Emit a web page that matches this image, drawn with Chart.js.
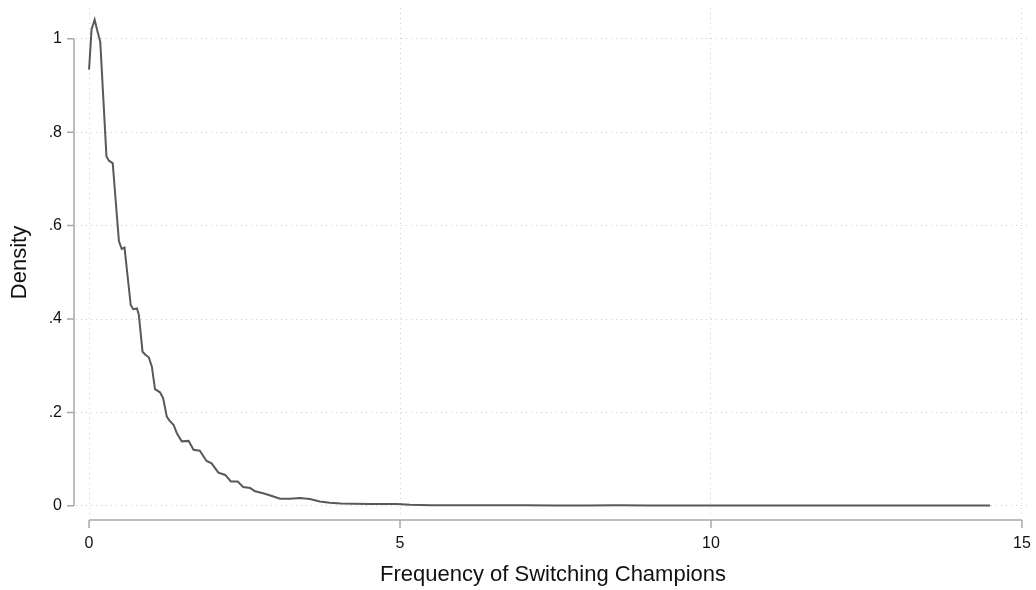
<!DOCTYPE html>
<html>
<head>
<meta charset="utf-8">
<script src="https://cdn.jsdelivr.net/npm/chart.js@4.4.0/dist/chart.umd.min.js"></script>
<style>
  html, body { margin: 0; padding: 0; background: #fff; }
  #wrap { width: 1036px; height: 590px; }
</style>
</head>
<body>
<div id="wrap"><canvas id="densityChart"></canvas></div>
<script>
// kernel density
const switchFreq = [0, 0.04, 0.09, 0.13, 0.18, 0.28, 0.32, 0.38, 0.48, 0.525, 0.57, 0.67, 0.71, 0.77, 0.8,
  0.86, 0.91, 0.96, 1.01, 1.06, 1.14, 1.19, 1.25, 1.29, 1.36, 1.41, 1.49, 1.6, 1.68, 1.78, 1.89, 1.97,
  2.08, 2.19, 2.28, 2.39, 2.48, 2.59, 2.67, 2.8, 2.94, 3.07, 3.23, 3.39, 3.55, 3.71, 3.87, 4.05, 4.24,
  4.52, 4.75, 4.95, 5.16, 5.5, 6, 6.5, 7, 7.5, 8, 8.5, 9, 9.5, 10, 11, 12, 13, 14, 14.49];
const densityVals = [0.934, 1.02, 1.041, 1.019, 0.994, 0.748, 0.739, 0.734, 0.567, 0.55, 0.553, 0.43, 0.421,
  0.4225, 0.409, 0.33, 0.323, 0.318, 0.298, 0.25, 0.243, 0.231, 0.191, 0.183, 0.173, 0.156, 0.138, 0.139,
  0.12, 0.118, 0.096, 0.091, 0.071, 0.066, 0.052, 0.052, 0.040, 0.038, 0.031, 0.027, 0.021, 0.015, 0.015,
  0.0165, 0.0144, 0.009, 0.0064, 0.005, 0.0043, 0.0036, 0.0038, 0.004, 0.002, 0.0012, 0.0011, 0.0013,
  0.001, 0.0008, 0.0006, 0.0009, 0.0005, 0.0005, 0.0005, 0.0005, 0.0005, 0.0005, 0.0005, 0.0006];
const xTicks = [0, 5, 10, 15];
const yTicks = [0, 0.2, 0.4, 0.6, 0.8, 1];

const FONT = "'Liberation Sans', Arial, sans-serif";
const AXIS_COLOR = "#a8a8a8";

let points = [];
for (let i = 0; i < switchFreq.length; i++) {
  points.push({ x: switchFreq[i], y: densityVals[i] });
}

// stata style axis lines, offset from the plot region
const stataAxes = {
  id: "stataAxes",
  afterDraw(chart) {
    const ctx = chart.ctx;
    const xs = chart.scales.x;
    const ys = chart.scales.y;
    const axisY = chart.chartArea.bottom + 3;
    const axisX = chart.chartArea.left - 2;
    ctx.save();
    ctx.strokeStyle = AXIS_COLOR;
    ctx.lineWidth = 1.5;
    ctx.beginPath();
    ctx.moveTo(xs.getPixelForValue(0), axisY);
    ctx.lineTo(xs.getPixelForValue(15), axisY);
    xTicks.forEach(function (v) {
      const px = xs.getPixelForValue(v);
      ctx.moveTo(px, axisY);
      ctx.lineTo(px, axisY + 8);
    });
    ctx.moveTo(axisX, ys.getPixelForValue(0));
    ctx.lineTo(axisX, ys.getPixelForValue(1));
    yTicks.forEach(function (v) {
      const py = ys.getPixelForValue(v);
      ctx.moveTo(axisX, py);
      ctx.lineTo(axisX - 7, py);
    });
    ctx.stroke();
    ctx.restore();
  }
};

// no extra room for overhanging tick labels, the layout padding sets the plot region
function noOverhang(scale) {
  scale.paddingLeft = 0;
  scale.paddingRight = 0;
  scale.paddingTop = 0;
  scale.paddingBottom = 0;
}

const gridOpts = {
  color: "#cccccc",
  lineWidth: 1,
  drawTicks: false,
};

const config = {
  type: "line",
  data: {
    datasets: [
      {
        label: "Density",
        data: points,
        borderColor: "#595959",
        borderWidth: 2,
        pointRadius: 0,
        fill: false,
        tension: 0,
      },
    ],
  },
  options: {
    responsive: false,
    animation: false,
    layout: { padding: { top: 8, right: 6, left: 0, bottom: 0 } },
    plugins: {
      legend: { display: false },
      tooltip: { enabled: false },
    },
    scales: {
      x: {
        type: "linear",
        min: -0.21,
        max: 15.13,
        afterBuildTicks: function (scale) {
          scale.ticks = xTicks.map(function (v) { return { value: v }; });
        },
        afterFit: function (scale) { scale.height = 73; noOverhang(scale); },
        border: { display: false, dash: [1, 4] },
        grid: gridOpts,
        ticks: {
          padding: 17,
          color: "#111",
          font: { family: FONT, size: 16 },
          maxRotation: 0,
          callback: function (v) { return String(v); },
        },
        title: {
          display: true,
          text: "Frequency of Switching Champions",
          color: "#111",
          font: { family: FONT, size: 22 },
          padding: { top: 0, bottom: 2 },
        },
      },
      y: {
        min: -0.024,
        max: 1.066,
        afterBuildTicks: function (scale) {
          scale.ticks = yTicks.map(function (v) { return { value: v }; });
        },
        afterFit: function (scale) { scale.width = 76; noOverhang(scale); },
        border: { display: false, dash: [1, 4] },
        grid: gridOpts,
        ticks: {
          padding: 14,
          color: "#111",
          font: { family: FONT, size: 16 },
          callback: function (v) {
            if (v === 0) return "0";
            if (v === 1) return "1";
            return String(Math.round(v * 10) / 10).replace("0.", ".");
          },
        },
        title: {
          display: true,
          text: "Density",
          color: "#111",
          font: { family: FONT, size: 22 },
          padding: { top: 7, bottom: 0 },
        },
      },
    },
  },
  plugins: [stataAxes],
};

const canvas = document.getElementById("densityChart");
canvas.width = 1036;
canvas.height = 590;
const densityChart = new Chart(canvas, config);
</script>
</body>
</html>
